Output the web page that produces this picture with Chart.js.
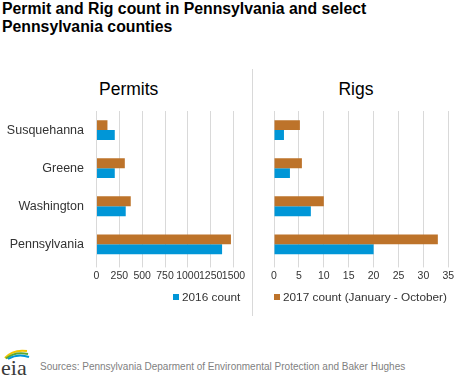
<!DOCTYPE html>
<html><head><meta charset="utf-8">
<script src="https://cdn.jsdelivr.net/npm/chart.js@4"></script>
<style>
html,body{margin:0;padding:0;background:#fff;width:468px;height:378px;overflow:hidden;font-family:"Liberation Sans",Arial,sans-serif;}
#title{position:absolute;left:2px;top:0px;font-weight:bold;font-size:15.8px;line-height:18px;color:#000;white-space:nowrap;}
.ptitle{position:absolute;top:78.5px;width:200px;text-align:center;font-size:17.5px;line-height:21px;color:#000;}
#c1{position:absolute;left:0;top:0;}
#c2{position:absolute;left:252px;top:0;}
#divider{position:absolute;left:252px;top:69px;width:1px;height:247px;background:#d9d9d9;}
.leg{position:absolute;top:289px;height:16px;font-size:11.8px;color:#333;display:flex;align-items:center;white-space:nowrap;}
.sw{display:inline-block;width:6px;height:6px;margin-right:3px;}
#src{position:absolute;left:40px;top:360px;font-size:10px;line-height:14px;color:#7f7f7f;white-space:nowrap;}
#logo{position:absolute;left:0;top:346px;}
</style>
</head><body>
<div id="title">Permit and Rig count in Pennsylvania and select<br>Pennsylvania counties</div>
<div class="ptitle" id="t1" style="left:28.7px"></div>
<div class="ptitle" id="t2" style="left:256px"></div>
<canvas id="c1" width="252" height="300"></canvas>
<canvas id="c2" width="216" height="300"></canvas>
<div id="divider"></div>
<div class="leg" id="leg1" style="left:173px"><span class="sw" id="sw1"></span><span id="lt1"></span></div>
<div class="leg" id="leg2" style="left:274px"><span class="sw" id="sw2"></span><span id="lt2"></span></div>
<svg id="logo" width="36" height="32" viewBox="0 0 36 32">
  <path d="M5 12 Q13 3 27 5" stroke="#f2c500" stroke-width="2" fill="none"/>
  <path d="M6 12.5 Q15 5 28 8" stroke="#5aa832" stroke-width="2" fill="none"/>
  <path d="M8 13 Q18 7 29 11" stroke="#0096d7" stroke-width="2" fill="none"/>
  <text x="1" y="29" font-family="Liberation Serif, DejaVu Serif, serif" font-size="22" fill="#3a3a3a">eia</text>
</svg>
<div id="src">Sources: Pennsylvania Deparment of Environmental Protection and Baker Hughes</div>
<script>
const categories = ['Susquehanna', 'Greene', 'Washington', 'Pennsylvania'];
const seriesNames = ['2016 count', '2017 count (January - October)'];
const panelTitles = ['Permits', 'Rigs'];
const permits2016 = [200, 200, 320, 1375];
const permits2017 = [120, 310, 375, 1472];
const rigs2016 = [2.0, 3.2, 7.4, 20.0];
const rigs2017 = [5.2, 5.6, 10.0, 32.9];
const permitTicks = [0, 250, 500, 750, 1000, 1250, 1500];
const rigTicks = [0, 5, 10, 15, 20, 25, 30, 35];

const BLUE = '#0096d7';
const ORANGE = '#bd732a';
const FONT = '"Liberation Sans", Arial, sans-serif';

document.getElementById('sw1').style.background = BLUE;
document.getElementById('sw2').style.background = ORANGE;
document.getElementById('lt1').textContent = seriesNames[0];
document.getElementById('lt2').textContent = seriesNames[1];
document.getElementById('t1').textContent = panelTitles[0];
document.getElementById('t2').textContent = panelTitles[1];

function makeChart(id, d2016, d2017, ticks, pad, yOpts) {
  return new Chart(document.getElementById(id), {
    type: 'bar',
    data: {
      labels: categories,
      datasets: [
        {label: seriesNames[1], data: d2017, backgroundColor: ORANGE},
        {label: seriesNames[0], data: d2016, backgroundColor: BLUE}
      ]
    },
    options: {
      indexAxis: 'y',
      responsive: false,
      animation: false,
      layout: {padding: pad},
      datasets: {bar: {categoryPercentage: 0.52, barPercentage: 1}},
      plugins: {
        legend: {display: false},
        tooltip: {enabled: false},
        title: {display: false}
      },
      scales: {
        x: {
          min: ticks[0], max: ticks[ticks.length - 1],
          afterBuildTicks: s => { s.ticks = ticks.map(v => ({value: v})); },
          ticks: {autoSkip: false, maxRotation: 0, color: '#333', padding: 2,
            font: {family: FONT, size: 10.5}, callback: v => String(v)},
          grid: {color: '#d9d9d9', tickLength: 4, lineWidth: 1},
          border: {display: false}
        },
        y: yOpts
      }
    }
  });
}

makeChart('c1', permits2016, permits2017, permitTicks,
  {left: 0, right: 18.5, top: 111, bottom: 16},
  {ticks: {color: '#333', padding: 12.5, font: {family: FONT, size: 12.5}},
   grid: {display: false, drawTicks: false}, border: {display: false},
   afterFit: s => { s.width = 96.5; }});

makeChart('c2', rigs2016, rigs2017, rigTicks,
  {left: 22, right: 19.7, top: 111, bottom: 16},
  {display: false});
</script>
</body></html>
